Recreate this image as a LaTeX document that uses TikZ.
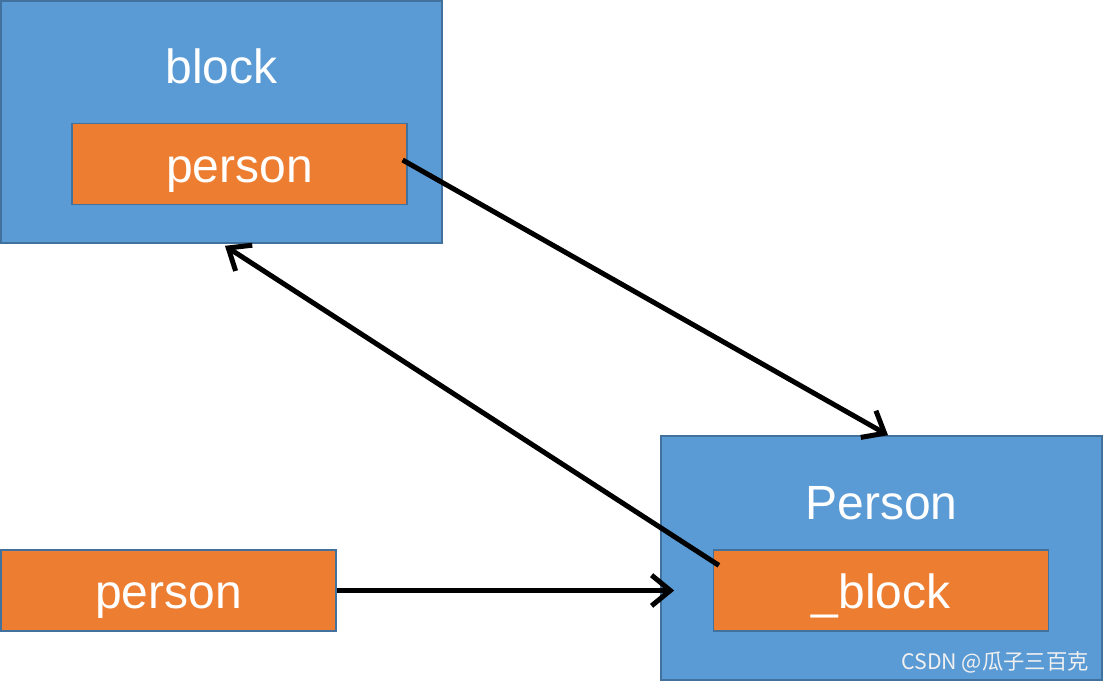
\documentclass[tikz,border=0pt]{standalone}
\usepackage{fontspec}
\setmainfont{Liberation Sans}
\newfontfamily\cjk{Noto Sans CJK SC}
\usetikzlibrary{arrows.meta}
\definecolor{boxblue}{HTML}{5B9BD5}
\definecolor{boxline}{HTML}{41719C}
\definecolor{boxorange}{HTML}{ED7D31}
\begin{document}
\begin{tikzpicture}[x=0.75pt,y=-0.75pt,>={Straight Barb[length=14pt,width=23pt]},
	outer/.style={draw=boxline,fill=boxblue,line width=1.2pt,minimum width=330.75pt},
	inner/.style={draw=boxline,fill=boxorange,line width=1.2pt,minimum width=251pt,minimum height=60.5pt,text=white,font=\fontsize{36}{42}\selectfont,text height=27pt,text depth=0pt},
	title/.style={text=white,font=\fontsize{36}{42}\selectfont,anchor=base,inner sep=0pt},
	link/.style={->,line width=3.75pt}]
	\useasboundingbox(0,0)rectangle(1104,682);
	\node[outer,minimum height=181.5pt](blk)at(221.5,122){};
	\node[title](blkt)at(221.5,83){block};
	\node[inner](blkp)at(239.5,164){person};
	\node[outer,minimum height=183pt](prs)at(881.5,558){};
	\node[title](prst)at(881.5,519){Person};
	\node[inner](prsb)at(881,590.5){\_block};
	\node[inner](per)at(168.5,590.5){person};
	\node[text=white!88!gray,font=\cjk\fontsize{16}{19}\selectfont,anchor=base east,inner sep=0pt](mark)at(1089,669){CSDN @瓜子三百克};
	\coordinate(prsin)at(prs.west|-per.east);
	\draw[link]([xshift=-3.75pt,yshift=3pt]blkp.east)--([xshift=4.9pt]prs.north);
	\draw[link]([xshift=4.5pt,yshift=-12pt]prsb.north west)--([xshift=2.6pt,yshift=-1.5pt]blk.south);
	\draw[link](per.east)--([xshift=10.5pt]prsin);
\end{tikzpicture}
\end{document}
